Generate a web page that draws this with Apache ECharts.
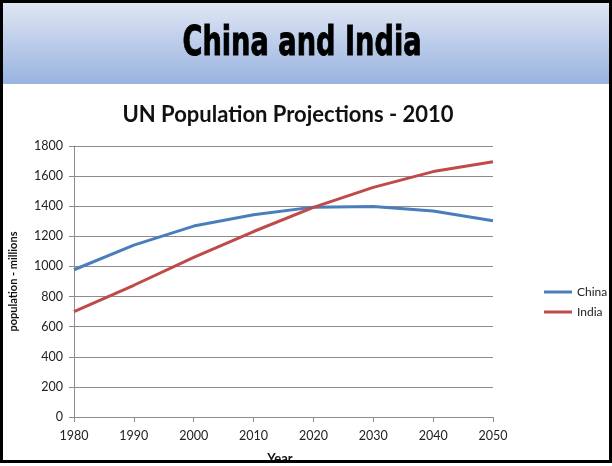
<!DOCTYPE html>
<html>
<head>
<meta charset="utf-8">
<script src="https://cdn.jsdelivr.net/npm/echarts@6/dist/echarts.min.js"></script>
<style>
  html, body { margin: 0; padding: 0; background: #fff; }
  #chart { width: 612px; height: 466px; }
</style>
</head>
<body>
<div id="chart"></div>
<script>
// UN population projections (millions), 1980-2050
const years = ['1980', '1990', '2000', '2010', '2020', '2030', '2040', '2050'];
const china = [978, 1142, 1268, 1344, 1394, 1398, 1368, 1303];
const india = [700, 875, 1060, 1232, 1392, 1525, 1630, 1696];
const yTicks = { min: 0, max: 1800, step: 200 };

const labelFont = 'Lato, "Open Sans", sans-serif';

const chart = echarts.init(document.getElementById('chart'), null, { renderer: 'canvas' });

chart.setOption({
  backgroundColor: '#ffffff',
  animation: false,
  title: {
    text: 'UN Population Projections - 2010',
    left: 283,
    textAlign: 'center',
    top: 99,
    textStyle: { fontFamily: labelFont, fontWeight: 'bold', fontSize: 22, color: '#111' }
  },
  legend: {
    orient: 'vertical',
    left: 539,
    top: 281,
    itemWidth: 28,
    itemHeight: 3,
    itemGap: 8,
    icon: 'rect',
    textStyle: { fontFamily: labelFont, fontSize: 12, color: '#222' },
    data: ['China', 'India']
  },
  grid: { left: 74, right: 119, top: 146, bottom: 49, containLabel: false },
  xAxis: {
    type: 'category',
    data: years,
    boundaryGap: false,
    axisLine: { lineStyle: { color: '#8c8c8c', width: 1 } },
    axisTick: { show: true, length: 5, inside: false, lineStyle: { color: '#8c8c8c' } },
    axisLabel: { margin: 12, fontFamily: labelFont, fontSize: 12.5, color: '#222' },
    splitLine: { show: false }
  },
  yAxis: {
    type: 'value',
    min: yTicks.min,
    max: yTicks.max,
    interval: yTicks.step,
    name: 'population - millions',
    nameLocation: 'middle',
    nameGap: 55,
    nameRotate: 90,
    nameTextStyle: { fontFamily: labelFont, fontWeight: 'bold', fontSize: 11, color: '#111' },
    axisLine: { show: true, lineStyle: { color: '#8c8c8c', width: 1 } },
    axisTick: { show: true, length: 5, lineStyle: { color: '#8c8c8c' } },
    axisLabel: {
      margin: 11, fontFamily: labelFont, fontSize: 12.5, color: '#222',
      formatter: (v) => String(v)
    },
    splitLine: { show: true, lineStyle: { color: '#8c8c8c', width: 1 } }
  },
  series: [
    {
      name: 'China',
      type: 'line',
      data: china,
      symbol: 'none',
      smooth: false,
      lineStyle: { color: '#4a7ebb', width: 3 },
      itemStyle: { color: '#4a7ebb' }
    },
    {
      name: 'India',
      type: 'line',
      data: india,
      symbol: 'none',
      smooth: false,
      lineStyle: { color: '#be4b48', width: 3 },
      itemStyle: { color: '#be4b48' }
    }
  ],
  graphic: [
    // header band
    {
      type: 'rect',
      z: 10,
      shape: { x: 3, y: 3, width: 606, height: 81 },
      style: {
        fill: new echarts.graphic.LinearGradient(0, 0, 0, 1, [
          { offset: 0, color: '#dfe6f4' },
          { offset: 1, color: '#98b3e0' }
        ])
      }
    },
    {
      type: 'text',
      z: 11,
      x: 302,
      y: 45,
      scaleX: 0.68,
      style: {
        text: 'China and India',
        fontFamily: '"DejaVu Sans", sans-serif',
        fontWeight: 'bold',
        fontSize: 40,
        fill: '#000',
        stroke: '#000',
        lineWidth: 1,
        align: 'center',
        verticalAlign: 'middle'
      }
    },
    // x axis name, partly hidden under the frame
    {
      type: 'text',
      z: 11,
      x: 280,
      y: 452,
      style: {
        text: 'Year',
        fontFamily: labelFont,
        fontWeight: 'bold',
        fontSize: 13,
        fill: '#111',
        align: 'center',
        verticalAlign: 'top'
      }
    },
    {
      type: 'rect',
      z: 12,
      shape: { x: 0, y: 463, width: 612, height: 3 },
      style: { fill: '#ffffff' }
    },
    // outer frame
    {
      type: 'rect',
      z: 13,
      shape: { x: 1.5, y: 1.5, width: 609, height: 460 },
      style: { fill: 'none', stroke: '#000', lineWidth: 3 }
    }
  ]
});
</script>
</body>
</html>
